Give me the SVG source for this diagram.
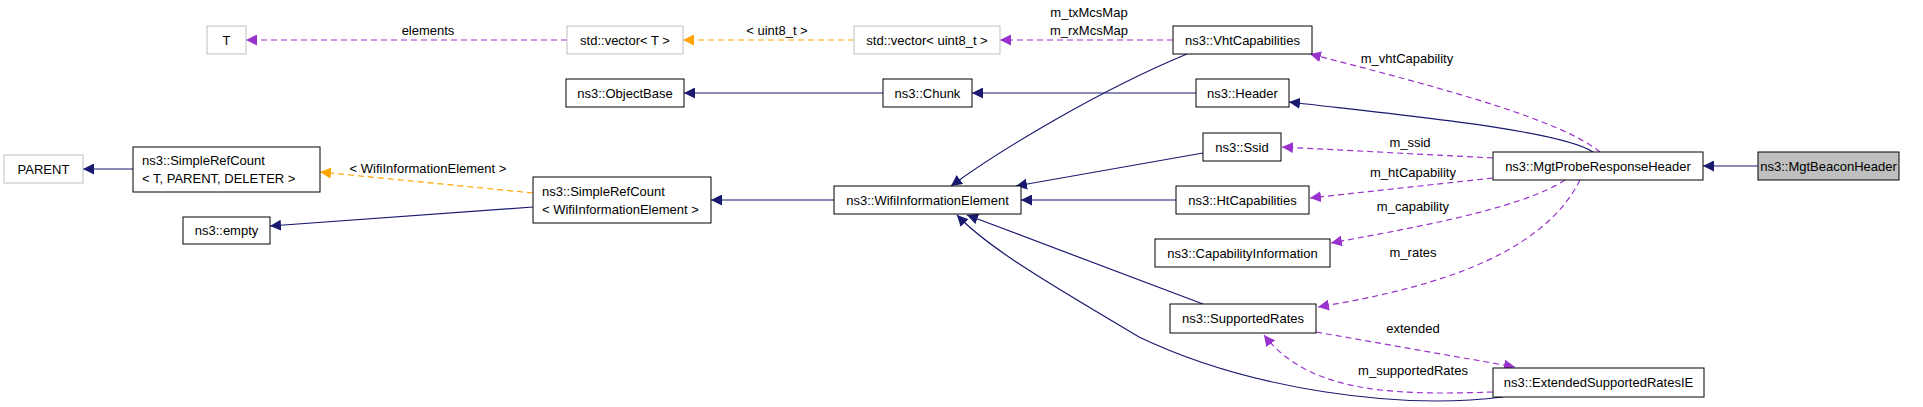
<svg xmlns="http://www.w3.org/2000/svg" width="1923" height="407" viewBox="0 0 1923 407">
<style>
rect{fill:#fff;stroke:#000;stroke-width:1}
.g{stroke:#bfbfbf}
text{font-family:"Liberation Sans",Arial,sans-serif;font-size:13px;text-anchor:middle;fill:#000}
.inh{fill:none;stroke:#191970;stroke-width:1.2}
.use{fill:none;stroke:#9a32cd;stroke-width:1.2;stroke-dasharray:6,4}
.tpl{fill:none;stroke:#ffa500;stroke-width:1.2;stroke-dasharray:6,4}
</style>
<defs>
<marker id="an" viewBox="0 0 10 10" refX="10" refY="5" markerWidth="11" markerHeight="11" markerUnits="userSpaceOnUse" orient="auto"><path d="M0,0L10,5L0,10z" fill="#191970"/></marker>
<marker id="ap" viewBox="0 0 10 10" refX="10" refY="5" markerWidth="11" markerHeight="11" markerUnits="userSpaceOnUse" orient="auto"><path d="M0,0L10,5L0,10z" fill="#9a32cd"/></marker>
<marker id="ao" viewBox="0 0 10 10" refX="10" refY="5" markerWidth="11" markerHeight="11" markerUnits="userSpaceOnUse" orient="auto"><path d="M0,0L10,5L0,10z" fill="#ffa500"/></marker>
</defs>
<g id="connectors">
<path class="inh" marker-end="url(#an)" d="M1758,166L1703,166"/>
<path class="inh" marker-end="url(#an)" d="M1593,152C1560,130 1400,115 1289,102"/>
<path class="use" marker-end="url(#ap)" d="M1600,152C1560,120 1450,90 1310,54"/>
<path class="use" marker-end="url(#ap)" d="M1493,158L1282,147"/>
<path class="use" marker-end="url(#ap)" d="M1493,178L1310,198"/>
<path class="use" marker-end="url(#ap)" d="M1565,180C1520,210 1400,230 1331,243"/>
<path class="use" marker-end="url(#ap)" d="M1580,180C1540,260 1420,290 1318,307"/>
<path class="use" marker-end="url(#ap)" d="M1316,332L1515,367"/>
<path class="use" marker-end="url(#ap)" d="M1493,392C1400,395 1310,395 1264,335"/>
<path class="inh" marker-end="url(#an)" d="M1503,397C1400,410 1250,390 1139,337C1060,290 990,250 957,215"/>
<path class="inh" marker-end="url(#an)" d="M1203,304L967,215"/>
<path class="inh" marker-end="url(#an)" d="M1176,200L1021,200"/>
<path class="inh" marker-end="url(#an)" d="M1203,153L1016,186"/>
<path class="inh" marker-end="url(#an)" d="M1187,54C1100,90 1000,150 951,186"/>
<path class="inh" marker-end="url(#an)" d="M834,200L711,200"/>
<path class="tpl" marker-end="url(#ao)" d="M533,193L320,172"/>
<path class="inh" marker-end="url(#an)" d="M533,207L270,226"/>
<path class="inh" marker-end="url(#an)" d="M133,169L83,169"/>
<path class="inh" marker-end="url(#an)" d="M883,93L684,93"/>
<path class="inh" marker-end="url(#an)" d="M1196,93L972,93"/>
<path class="tpl" marker-end="url(#ao)" d="M854,40L683,40"/>
<path class="use" marker-end="url(#ap)" d="M1173,40L1000,40"/>
<path class="use" marker-end="url(#ap)" d="M567,40L246,40"/>
<text x="428" y="35">elements</text>
<text x="777" y="35">&lt; uint8_t &gt;</text>
<text x="1089" y="17">m_txMcsMap</text>
<text x="1089" y="35">m_rxMcsMap</text>
<text x="428" y="173">&lt; WifiInformationElement &gt;</text>
<text x="1407" y="63">m_vhtCapability</text>
<text x="1410" y="147">m_ssid</text>
<text x="1413" y="177">m_htCapability</text>
<text x="1413" y="211">m_capability</text>
<text x="1413" y="257">m_rates</text>
<text x="1413" y="333">extended</text>
<text x="1413" y="375">m_supportedRates</text>
</g>
<g id="T"><rect class="g" x="207" y="26" width="39" height="28"/><text x="226.5" y="45">T</text></g>
<g id="vecT"><rect class="g" x="567" y="26" width="116" height="28"/><text x="625" y="45">std::vector&lt; T &gt;</text></g>
<g id="vecU8"><rect class="g" x="854" y="26" width="146" height="28"/><text x="927" y="45">std::vector&lt; uint8_t &gt;</text></g>
<g id="VhtCapabilities"><rect x="1173" y="26" width="139" height="28"/><text x="1242.5" y="45">ns3::VhtCapabilities</text></g>
<g id="ObjectBase"><rect x="566" y="79" width="118" height="28"/><text x="625" y="98">ns3::ObjectBase</text></g>
<g id="Chunk"><rect x="883" y="79" width="89" height="28"/><text x="927.5" y="98">ns3::Chunk</text></g>
<g id="Header"><rect x="1196" y="79" width="93" height="28"/><text x="1242.5" y="98">ns3::Header</text></g>
<g id="Ssid"><rect x="1203" y="133" width="78" height="28"/><text x="1242" y="152">ns3::Ssid</text></g>
<g id="PARENT"><rect class="g" x="4" y="155" width="79" height="28"/><text x="43.5" y="174">PARENT</text></g>
<g id="SimpleRefCountT"><rect x="133" y="147" width="187" height="45"/><text x="142" y="165" style="text-anchor:start">ns3::SimpleRefCount</text><text x="142" y="183" style="text-anchor:start">&lt; T, PARENT, DELETER &gt;</text></g>
<g id="empty"><rect x="183" y="217" width="87" height="27"/><text x="226.5" y="235">ns3::empty</text></g>
<g id="SimpleRefCountWifi"><rect x="533" y="177" width="178" height="46"/><text x="542" y="196" style="text-anchor:start">ns3::SimpleRefCount</text><text x="542" y="214" style="text-anchor:start">&lt; WifiInformationElement &gt;</text></g>
<g id="WifiInformationElement"><rect x="834" y="186" width="187" height="28"/><text x="927.5" y="205">ns3::WifiInformationElement</text></g>
<g id="HtCapabilities"><rect x="1176" y="186" width="133" height="28"/><text x="1242.5" y="205">ns3::HtCapabilities</text></g>
<g id="CapabilityInformation"><rect x="1155" y="239" width="175" height="28"/><text x="1242.5" y="258">ns3::CapabilityInformation</text></g>
<g id="SupportedRates"><rect x="1170" y="304" width="146" height="29"/><text x="1243" y="323">ns3::SupportedRates</text></g>
<g id="ExtendedSupportedRatesIE"><rect x="1493" y="368" width="211" height="29"/><text x="1598.5" y="387">ns3::ExtendedSupportedRatesIE</text></g>
<g id="MgtProbeResponseHeader"><rect x="1493" y="152" width="210" height="28"/><text x="1598" y="171">ns3::MgtProbeResponseHeader</text></g>
<g id="MgtBeaconHeader"><rect x="1758" y="152" width="141" height="28" style="fill:#bfbfbf"/><text x="1828.5" y="171">ns3::MgtBeaconHeader</text></g>
</svg>
